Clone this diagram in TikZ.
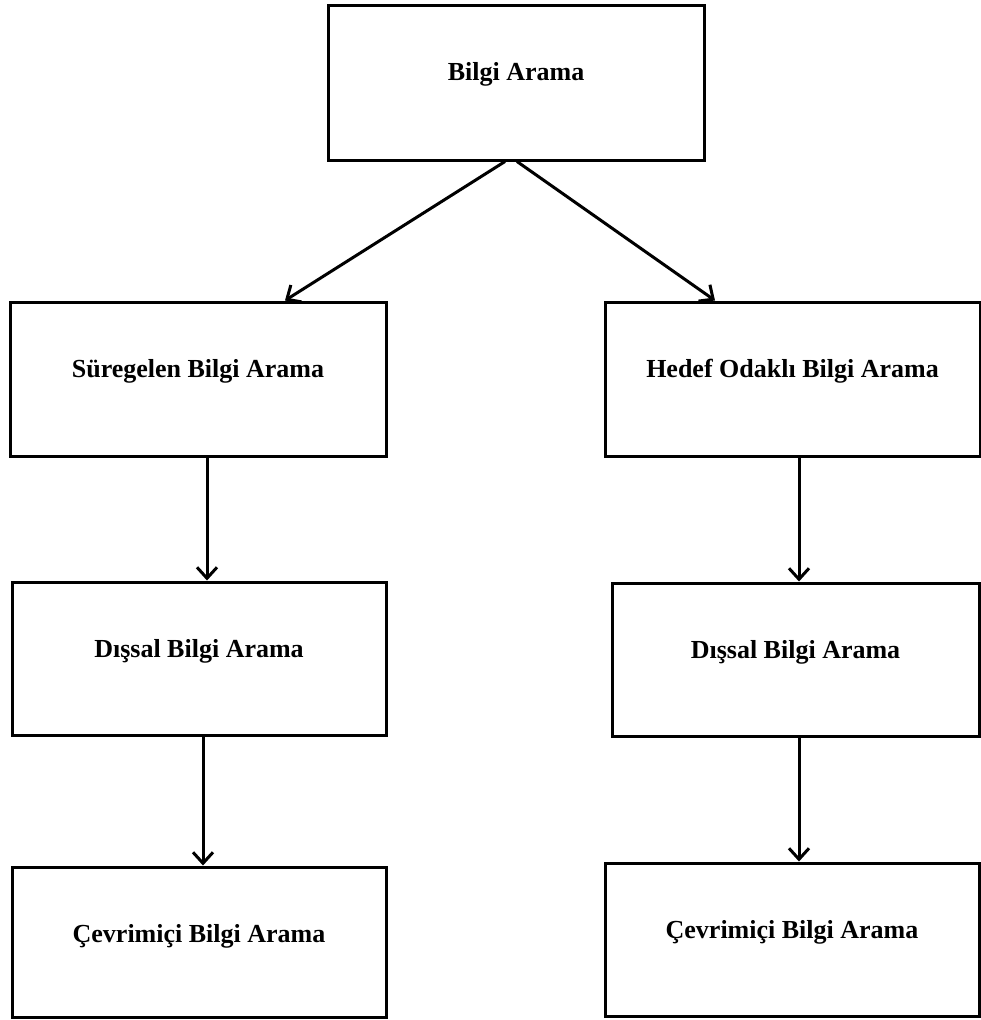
\documentclass[tikz,border=0pt]{standalone}
\usepackage{fontspec}
\setmainfont{Liberation Serif}
\usetikzlibrary{arrows.meta}
\begin{document}
\begin{tikzpicture}[x=1pt,y=-1pt,
  box/.style={draw=black,line width=3pt,rectangle,inner sep=0pt,fill=white},
  lbl/.style={font=\fontsize{26}{30}\selectfont\bfseries,inner sep=0pt},
  conn/.style={draw=black,line width=3pt,-{Straight Barb[length=11pt,width=20pt,line width=3pt]}}]
\useasboundingbox (0,0) rectangle (981,1020);
\fill[white] (0,0) rectangle (981,1020);
\node[box,minimum width=376pt,minimum height=155pt] (top) at (516,82.5) {};
\node[box,minimum width=376pt,minimum height=154pt] (L1) at (198,379) {};
\node[box,minimum width=375pt,minimum height=154pt] (R1) at (792.5,379) {};
\node[box,minimum width=374pt,minimum height=153pt] (L2) at (199,658.5) {};
\node[box,minimum width=367pt,minimum height=153pt] (R2) at (795.5,659.5) {};
\node[box,minimum width=374pt,minimum height=150pt] (L3) at (199,942) {};
\node[box,minimum width=374pt,minimum height=153pt] (R3) at (792,939.5) {};
\node[lbl] (ttop) at ([yshift=8]top.center) {Bilgi Arama};
\node[lbl] (tL1) at ([yshift=8]L1.center) {Süregelen Bilgi Arama};
\node[lbl] (tR1) at ([yshift=8]R1.center) {Hedef Odaklı Bilgi Arama};
\node[lbl] (tL2) at ([yshift=7]L2.center) {Dışsal Bilgi Arama};
\node[lbl] (tR2) at ([yshift=7]R2.center) {Dışsal Bilgi Arama};
\node[lbl] (tL3) at ([yshift=6]L3.center) {Çevrimiçi Bilgi Arama};
\node[lbl] (tR3) at ([yshift=7]R3.center) {Çevrimiçi Bilgi Arama};
\draw[conn] ([xshift=-11]top.south) -- ([xshift=87]L1.north);
\draw[conn] ([xshift=1]top.south) -- ([xshift=-77.5]R1.north);
\draw[conn] ([xshift=9]L1.south) -- ([xshift=9]L1.south |- L2.north);
\draw[conn] ([xshift=4]L2.south) -- ([xshift=4]L2.south |- L3.north);
\draw[conn] ([xshift=6.5]R1.south) -- ([xshift=6.5]R1.south |- R2.north);
\draw[conn] ([xshift=3.5]R2.south) -- ([xshift=3.5]R2.south |- R3.north);
\end{tikzpicture}
\end{document}
